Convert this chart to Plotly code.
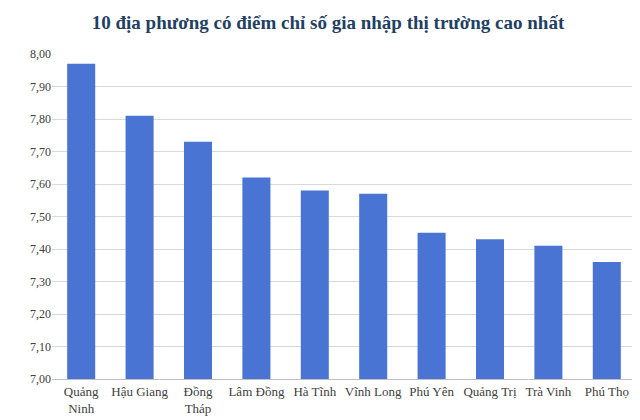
import plotly.graph_objects as go

categories = ["Quảng<br>Ninh", "Hậu Giang", "Đồng<br>Tháp", "Lâm Đồng", "Hà Tĩnh",
              "Vĩnh Long", "Phú Yên", "Quảng Trị", "Trà Vinh", "Phú Thọ"]
values = [7.97, 7.81, 7.73, 7.62, 7.58, 7.57, 7.45, 7.43, 7.41, 7.36]
tick_vals = [7.0, 7.1, 7.2, 7.3, 7.4, 7.5, 7.6, 7.7, 7.8, 7.9, 8.0]
tick_text = ["7,00", "7,10", "7,20", "7,30", "7,40", "7,50", "7,60", "7,70", "7,80", "7,90", "8,00"]

fig = go.Figure(go.Bar(
    x=categories, y=values,
    marker=dict(color="#4a74d3", line=dict(width=0)),
))
fig.update_layout(
    width=640, height=420,
    margin=dict(l=44, r=12, t=46, b=47),
    paper_bgcolor="white", plot_bgcolor="white",
    title=dict(text="<b>10 địa phương có điểm chỉ số gia nhập thị trường cao nhất</b>",
               x=0.5, xanchor="center", y=0.965, yanchor="middle",
               font=dict(family="Liberation Serif", size=19, color="#1f3f63")),
    font=dict(family="Liberation Serif", size=12, color="#404040"),
    showlegend=False, bargap=0.52,
)
fig.update_yaxes(range=[7.0, 8.0], tickvals=tick_vals, ticktext=tick_text,
                 showgrid=True, gridcolor="#d9d9d9", zeroline=False,
                 tickfont=dict(family="Liberation Serif", size=12, color="#404040"), ticks="")
fig.update_xaxes(showline=True, linecolor="#bfbfbf", ticks="", tickangle=0,
                 tickfont=dict(family="Liberation Serif", size=13, color="#404040"))
fig.write_html("out.html")
